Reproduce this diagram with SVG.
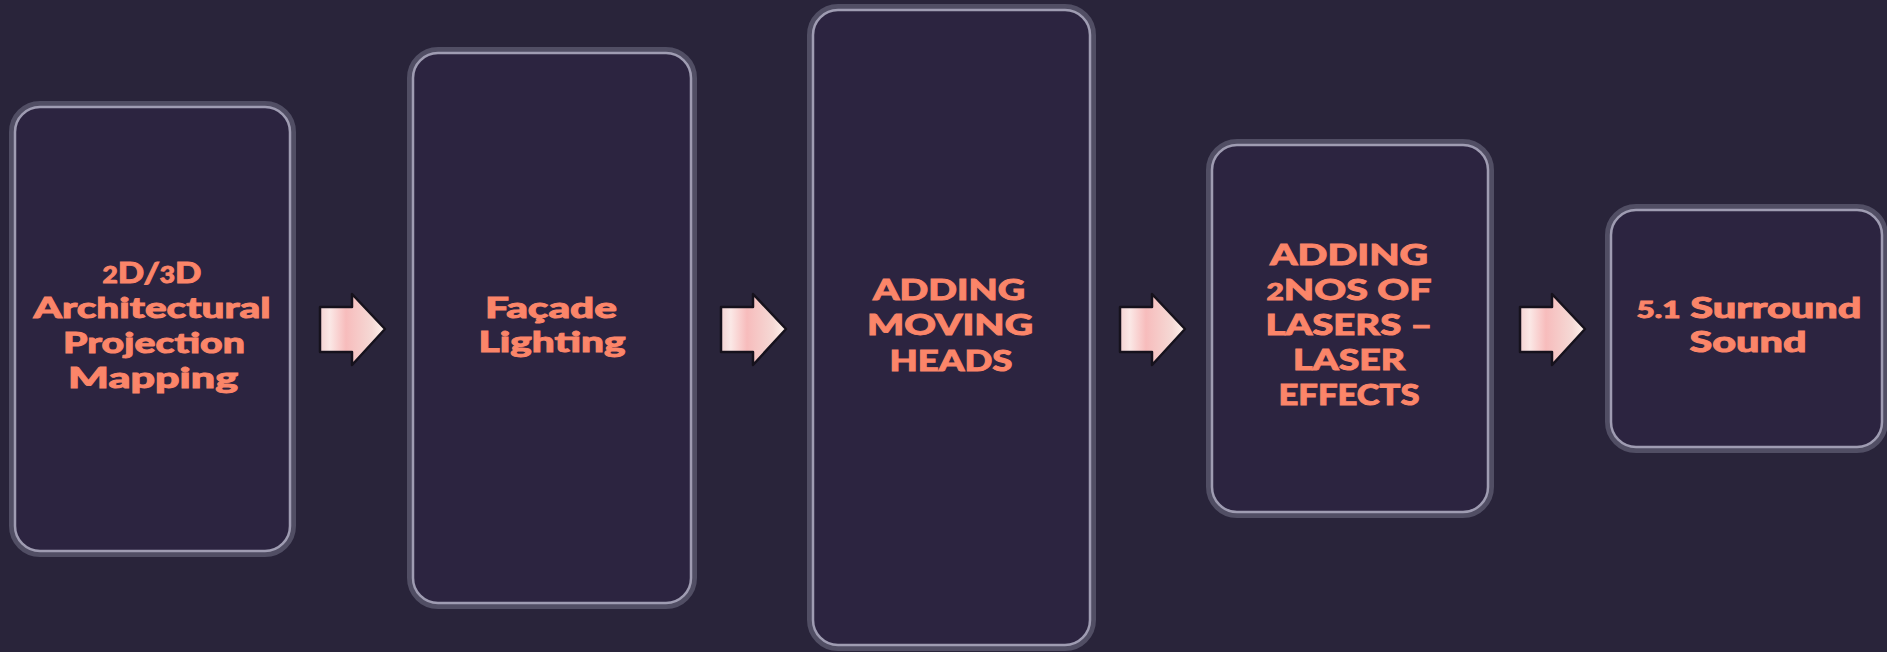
<svg xmlns="http://www.w3.org/2000/svg" width="1887" height="652" viewBox="0 0 1887 652">
<defs>
<style>
.box{fill:#2c2440;stroke:#514e64;stroke-width:6}
.inner{fill:none;stroke:#9f9cb2;stroke-width:2.5}
.t{font-family:Lato,"Liberation Sans",sans-serif;font-weight:900;font-size:29px;fill:#fb8569;stroke:#fb8569;stroke-width:0.9;text-anchor:middle}
.d{font-size:22px}
.arr{fill:url(#ag);stroke:#15111c;stroke-width:2.5;stroke-linejoin:round}
</style>
<linearGradient id="ag" x1="0" y1="0" x2="1" y2="0">
<stop offset="0" stop-color="#f3d2d2"/>
<stop offset="0.15" stop-color="#fbe8e6"/>
<stop offset="0.4" stop-color="#f7bcbc"/>
<stop offset="0.8" stop-color="#f5d9d5"/>
<stop offset="1" stop-color="#fff4ee"/>
</linearGradient>
</defs>
<rect width="1887" height="652" fill="#29243a"/>
<g id="node1">
<rect class="box" x="12" y="104" width="281" height="450" rx="28"/>
<rect class="inner" x="15" y="107" width="275" height="444" rx="25"/>
<text class="t" x="152" y="283" textLength="99" lengthAdjust="spacingAndGlyphs"><tspan class="d">2</tspan>D/<tspan class="d">3</tspan>D</text>
<text class="t" x="152" y="318" textLength="237" lengthAdjust="spacingAndGlyphs">Architectural</text>
<text class="t" x="154" y="353" textLength="182" lengthAdjust="spacingAndGlyphs">Projection</text>
<text class="t" x="153" y="388" textLength="170" lengthAdjust="spacingAndGlyphs">Mapping</text>
</g>
<g id="node2">
<rect class="box" x="410" y="50" width="284" height="556" rx="28"/>
<rect class="inner" x="413" y="53" width="278" height="550" rx="25"/>
<text class="t" x="551" y="318" textLength="132" lengthAdjust="spacingAndGlyphs">Façade</text>
<text class="t" x="552" y="352" textLength="147" lengthAdjust="spacingAndGlyphs">Lighting</text>
</g>
<g id="node3">
<rect class="box" x="810" y="7" width="283" height="641" rx="28"/>
<rect class="inner" x="813" y="10" width="277" height="635" rx="25"/>
<text class="t" x="949" y="300" textLength="152" lengthAdjust="spacingAndGlyphs">ADDING</text>
<text class="t" x="950" y="335" textLength="166" lengthAdjust="spacingAndGlyphs">MOVING</text>
<text class="t" x="951" y="371" textLength="123" lengthAdjust="spacingAndGlyphs">HEADS</text>
</g>
<g id="node4">
<rect class="box" x="1209" y="142" width="282" height="373" rx="28"/>
<rect class="inner" x="1212" y="145" width="276" height="367" rx="25"/>
<text class="t" x="1349" y="265" textLength="158" lengthAdjust="spacingAndGlyphs">ADDING</text>
<text class="t" x="1349" y="300" textLength="165" lengthAdjust="spacingAndGlyphs"><tspan class="d">2</tspan>NOS OF</text>
<text class="t" x="1349" y="335" textLength="167" lengthAdjust="spacingAndGlyphs">LASERS –</text>
<text class="t" x="1349" y="370" textLength="112" lengthAdjust="spacingAndGlyphs">LASER</text>
<text class="t" x="1349" y="405" textLength="141" lengthAdjust="spacingAndGlyphs">EFFECTS</text>
</g>
<g id="node5">
<rect class="box" x="1608" y="207" width="277" height="243" rx="28"/>
<rect class="inner" x="1611" y="210" width="271" height="237" rx="25"/>
<text class="t" x="1749" y="318" textLength="225" lengthAdjust="spacingAndGlyphs"><tspan class="d">5.1</tspan> Surround</text>
<text class="t" x="1748" y="352" textLength="117" lengthAdjust="spacingAndGlyphs">Sound</text>
</g>
<g id="connectors">
<path class="arr" d="M320,307 H352 V294 L385,329 L352,365 V352 H320 Z"/>
<path class="arr" d="M721,307 H753 V294 L786,329 L753,365 V352 H721 Z"/>
<path class="arr" d="M1120,307 H1152 V294 L1185,329 L1152,365 V352 H1120 Z"/>
<path class="arr" d="M1520,307 H1552 V294 L1585,329 L1552,365 V352 H1520 Z"/>
</g>
</svg>
